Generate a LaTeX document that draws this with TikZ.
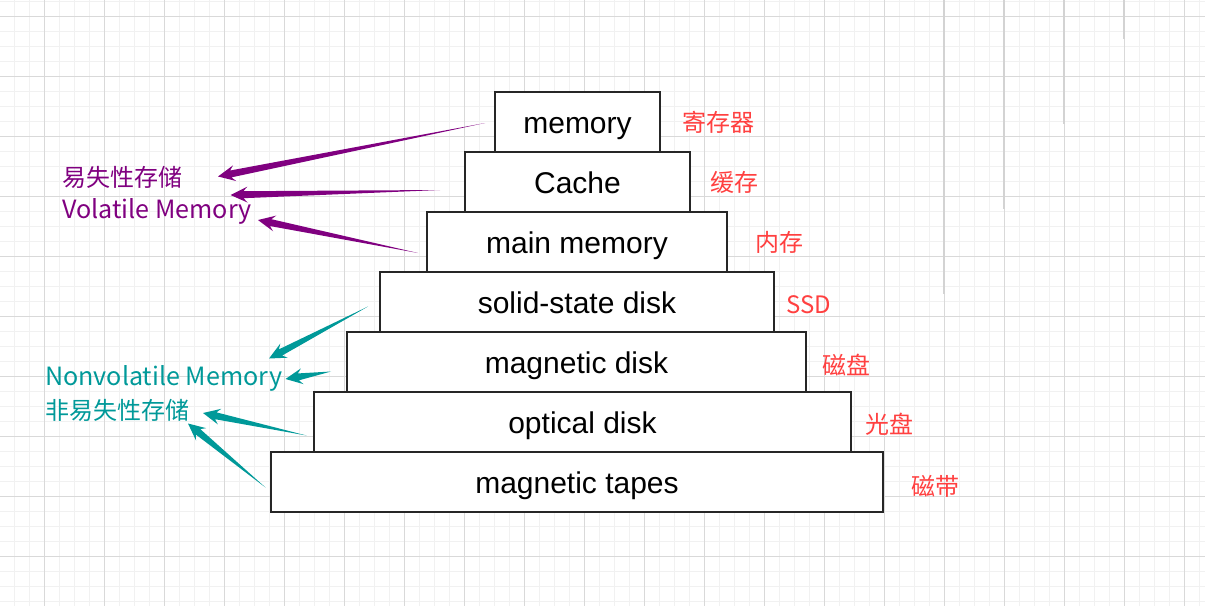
\documentclass[tikz,border=0pt]{standalone}
\usepackage{fontspec}
\setmainfont{Liberation Sans}
\newfontfamily\cjk{Noto Sans CJK SC}
\usetikzlibrary{calc}
\definecolor{gridmaj}{HTML}{D9D9D9}
\definecolor{gridmin}{HTML}{F1F1F1}
\definecolor{gridart}{HTML}{D3D3D3}
\definecolor{volpurple}{HTML}{800080}
\definecolor{nonteal}{HTML}{009999}
\definecolor{lblred}{HTML}{FF4040}
\newcommand\taperarrow[3]{%
  \coordinate (tmpH) at ($(#3)!17pt!(#2)$);
  \coordinate (tmpS) at ($(#3)!13pt!(#2)$);
  \fill[#1] (#2) -- ($(tmpS)!3.5pt!90:(#3)$) -- ($(tmpH)!8pt!90:(#3)$) -- (#3)
    -- ($(tmpH)!8pt!-90:(#3)$) -- ($(tmpS)!3.5pt!-90:(#3)$) -- cycle;}
\tikzset{
  tier/.style={draw=black!85, line width=1.3pt, fill=white, inner sep=0pt,
    minimum height=60pt, text height=22pt, text depth=0pt,
    font=\fontsize{30}{33}\selectfont},
  redlbl/.style={anchor=west, inner sep=0pt, text=lblred, font=\cjk\fontsize{24}{26}\selectfont},
  grouplbl/.style={anchor=west, inner sep=0pt, font=\cjk\fontsize{24}{26}\selectfont},
  grouplat/.style={anchor=west, inner sep=0pt, font=\cjk\fontsize{25.1}{27}\selectfont},
}
\begin{document}
\begin{tikzpicture}[x=1pt,y=-1pt]
\useasboundingbox (0,0) rectangle (1205,606);
\fill[white] (0,0) rectangle (1205,606);
% grid
\foreach \x in {14,29,...,1204} \draw[gridmin, line width=1pt] (\x,0) -- (\x,606);
\foreach \y in {1,16,...,605} \draw[gridmin, line width=1pt] (0,\y) -- (1205,\y);
\foreach \x in {44,104,...,1184} \draw[gridmaj, line width=1pt] (\x,0) -- (\x,606);
\foreach \y in {16,76,...,556} \draw[gridmaj, line width=1pt] (0,\y) -- (1205,\y);
\draw[gridart, line width=1.6pt] (944,0) -- (944,294);
\draw[gridart, line width=1.6pt] (1004,0) -- (1004,209);
\draw[gridart, line width=1.6pt] (1064,0) -- (1064,124);
\draw[gridart, line width=1.6pt] (1124,0) -- (1124,39);
% pyramid
\node[tier, minimum width=612pt] (b7) at (577,482) {magnetic tapes};
\node[tier, minimum width=537pt] (b6) at (582.5,422) {optical disk};
\node[tier, minimum width=459pt] (b5) at (576.5,362) {magnetic disk};
\node[tier, minimum width=394pt] (b4) at (577,302) {solid-state disk};
\node[tier, minimum width=300pt] (b3) at (577,242) {main memory};
\node[tier, minimum width=225pt] (b2) at (577.5,182) {Cache};
\node[tier, minimum width=165pt] (b1) at (577.5,122) {memory};
% red labels
\node[redlbl] (r1) at (682,122) {寄存器};
\node[redlbl] (r2) at (710,182) {缓存};
\node[redlbl] (r3) at (755,242) {内存};
\node[redlbl] (r4) at (786,305) {SSD};
\node[redlbl] (r5) at (822,365) {磁盘};
\node[redlbl] (r6) at (865,424) {光盘};
\node[redlbl] (r7) at (911,486) {磁带};
% group labels
\node[grouplbl, text=volpurple] (vol1) at (62,177.5) {易失性存储};
\node[grouplat, text=volpurple] (vol2) at (62,211) {Volatile Memory};
\node[grouplat, text=nonteal] (nv1) at (45,378.5) {Nonvolatile Memory};
\node[grouplbl, text=nonteal] (nv2) at (45,410) {非易失性存储};
% arrow ends
\coordinate (pt1) at (485,123);   \coordinate (ph1) at (218,176.5);
\coordinate (pt2) at (440,190);   \coordinate (ph2) at (230.5,195);
\coordinate (pt3) at (418,253);   \coordinate (ph3) at (258,220);
\coordinate (tt1) at (368,306.5); \coordinate (th1) at (269,358.5);
\coordinate (tt2) at (331,371.5); \coordinate (th2) at (285.5,379);
\coordinate (tt3) at (306.5,435.5); \coordinate (th3) at (203,413);
\coordinate (tt4) at (265.5,487.5); \coordinate (th4) at (188,423.5);
\taperarrow{volpurple}{pt1}{ph1}
\taperarrow{volpurple}{pt2}{ph2}
\taperarrow{volpurple}{pt3}{ph3}
\taperarrow{nonteal}{tt1}{th1}
\taperarrow{nonteal}{tt2}{th2}
\taperarrow{nonteal}{tt3}{th3}
\taperarrow{nonteal}{tt4}{th4}
\end{tikzpicture}
\end{document}
